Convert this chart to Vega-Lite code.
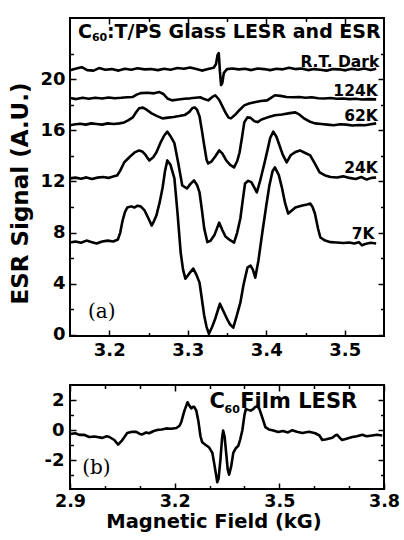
{
"$schema": "https://vega.github.io/schema/vega-lite/v6.json",
"padding": {"left": 8, "top": 16, "right": 0, "bottom": 0},
"bounds": "flush",
"spacing": 49,
"config": {
  "view": {"stroke": "black", "strokeWidth": 2},
  "axis": {"domain": false, "grid": false, "tickColor": "black", "tickWidth": 1.5, "labelColor": "black", "labelFont": "DejaVu Sans", "labelFontWeight": "bold", "labelFontSize": 18, "labelFlush": false, "labelOverlap": false, "titleColor": "black", "titleFont": "DejaVu Sans", "titleFontWeight": "bold"},
  "text": {"color": "black"}
},
"datasets": {
"esr": [
{"trace":"RT","kG":3.150,"signal":20.70},{"trace":"RT","kG":3.158,"signal":20.85},{"trace":"RT","kG":3.165,"signal":20.95},{"trace":"RT","kG":3.172,"signal":20.72},{"trace":"RT","kG":3.180,"signal":20.68},{"trace":"RT","kG":3.187,"signal":20.88},{"trace":"RT","kG":3.195,"signal":20.75},{"trace":"RT","kG":3.203,"signal":20.80},{"trace":"RT","kG":3.212,"signal":20.68},{"trace":"RT","kG":3.220,"signal":20.82},{"trace":"RT","kG":3.228,"signal":20.75},{"trace":"RT","kG":3.236,"signal":20.86},{"trace":"RT","kG":3.245,"signal":20.78},{"trace":"RT","kG":3.253,"signal":20.80},{"trace":"RT","kG":3.262,"signal":20.72},{"trace":"RT","kG":3.270,"signal":20.82},{"trace":"RT","kG":3.278,"signal":20.75},{"trace":"RT","kG":3.287,"signal":20.88},{"trace":"RT","kG":3.295,"signal":20.82},{"trace":"RT","kG":3.303,"signal":20.92},{"trace":"RT","kG":3.311,"signal":20.80},{"trace":"RT","kG":3.318,"signal":20.68},{"trace":"RT","kG":3.326,"signal":20.80},{"trace":"RT","kG":3.333,"signal":20.90},{"trace":"RT","kG":3.336,"signal":21.20},{"trace":"RT","kG":3.338,"signal":21.90},{"trace":"RT","kG":3.3395,"signal":22.05},{"trace":"RT","kG":3.341,"signal":20.60},{"trace":"RT","kG":3.3425,"signal":19.55},{"trace":"RT","kG":3.344,"signal":19.70},{"trace":"RT","kG":3.346,"signal":20.50},{"trace":"RT","kG":3.350,"signal":20.80},{"trace":"RT","kG":3.357,"signal":20.85},{"trace":"RT","kG":3.365,"signal":20.78},{"trace":"RT","kG":3.373,"signal":20.82},{"trace":"RT","kG":3.381,"signal":20.72},{"trace":"RT","kG":3.389,"signal":20.85},{"trace":"RT","kG":3.397,"signal":20.80},{"trace":"RT","kG":3.405,"signal":20.72},{"trace":"RT","kG":3.413,"signal":20.82},{"trace":"RT","kG":3.421,"signal":20.78},{"trace":"RT","kG":3.429,"signal":20.90},{"trace":"RT","kG":3.437,"signal":20.80},{"trace":"RT","kG":3.445,"signal":20.85},{"trace":"RT","kG":3.453,"signal":20.72},{"trace":"RT","kG":3.461,"signal":20.80},{"trace":"RT","kG":3.469,"signal":20.75},{"trace":"RT","kG":3.477,"signal":20.68},{"trace":"RT","kG":3.485,"signal":20.80},{"trace":"RT","kG":3.493,"signal":20.78},{"trace":"RT","kG":3.501,"signal":20.70},{"trace":"RT","kG":3.509,"signal":20.82},{"trace":"RT","kG":3.517,"signal":20.75},{"trace":"RT","kG":3.525,"signal":20.85},{"trace":"RT","kG":3.533,"signal":20.72},{"trace":"RT","kG":3.540,"signal":20.82},
{"trace":"124K","kG":3.150,"signal":18.53},{"trace":"124K","kG":3.158,"signal":18.45},{"trace":"124K","kG":3.166,"signal":18.55},{"trace":"124K","kG":3.174,"signal":18.48},{"trace":"124K","kG":3.182,"signal":18.55},{"trace":"124K","kG":3.191,"signal":18.50},{"trace":"124K","kG":3.199,"signal":18.58},{"trace":"124K","kG":3.207,"signal":18.52},{"trace":"124K","kG":3.215,"signal":18.55},{"trace":"124K","kG":3.223,"signal":18.60},{"trace":"124K","kG":3.230,"signal":18.62},{"trace":"124K","kG":3.235,"signal":18.80},{"trace":"124K","kG":3.240,"signal":18.92},{"trace":"124K","kG":3.249,"signal":18.95},{"trace":"124K","kG":3.257,"signal":18.90},{"trace":"124K","kG":3.264,"signal":19.00},{"trace":"124K","kG":3.269,"signal":18.85},{"trace":"124K","kG":3.274,"signal":18.50},{"trace":"124K","kG":3.280,"signal":18.35},{"trace":"124K","kG":3.288,"signal":18.42},{"trace":"124K","kG":3.296,"signal":18.48},{"trace":"124K","kG":3.303,"signal":18.51},{"trace":"124K","kG":3.310,"signal":18.55},{"trace":"124K","kG":3.316,"signal":18.59},{"trace":"124K","kG":3.321,"signal":18.45},{"trace":"124K","kG":3.326,"signal":18.35},{"trace":"124K","kG":3.331,"signal":18.60},{"trace":"124K","kG":3.335,"signal":18.75},{"trace":"124K","kG":3.340,"signal":18.40},{"trace":"124K","kG":3.344,"signal":17.90},{"trace":"124K","kG":3.348,"signal":17.40},{"trace":"124K","kG":3.352,"signal":17.00},{"trace":"124K","kG":3.355,"signal":16.94},{"trace":"124K","kG":3.360,"signal":17.20},{"trace":"124K","kG":3.366,"signal":17.60},{"trace":"124K","kG":3.372,"signal":17.96},{"trace":"124K","kG":3.378,"signal":18.10},{"trace":"124K","kG":3.385,"signal":18.20},{"trace":"124K","kG":3.393,"signal":18.30},{"trace":"124K","kG":3.401,"signal":18.35},{"trace":"124K","kG":3.406,"signal":18.55},{"trace":"124K","kG":3.411,"signal":18.75},{"trace":"124K","kG":3.418,"signal":18.70},{"trace":"124K","kG":3.426,"signal":18.62},{"trace":"124K","kG":3.434,"signal":18.59},{"trace":"124K","kG":3.442,"signal":18.62},{"trace":"124K","kG":3.450,"signal":18.55},{"trace":"124K","kG":3.458,"signal":18.59},{"trace":"124K","kG":3.466,"signal":18.52},{"trace":"124K","kG":3.474,"signal":18.50},{"trace":"124K","kG":3.482,"signal":18.53},{"trace":"124K","kG":3.490,"signal":18.48},{"trace":"124K","kG":3.498,"signal":18.50},{"trace":"124K","kG":3.506,"signal":18.45},{"trace":"124K","kG":3.514,"signal":18.48},{"trace":"124K","kG":3.522,"signal":18.42},{"trace":"124K","kG":3.531,"signal":18.45},{"trace":"124K","kG":3.540,"signal":18.43},
{"trace":"62K","kG":3.150,"signal":16.40},{"trace":"62K","kG":3.157,"signal":16.48},{"trace":"62K","kG":3.163,"signal":16.52},{"trace":"62K","kG":3.170,"signal":16.45},{"trace":"62K","kG":3.177,"signal":16.55},{"trace":"62K","kG":3.184,"signal":16.50},{"trace":"62K","kG":3.191,"signal":16.45},{"trace":"62K","kG":3.198,"signal":16.55},{"trace":"62K","kG":3.206,"signal":16.50},{"trace":"62K","kG":3.213,"signal":16.55},{"trace":"62K","kG":3.219,"signal":16.62},{"trace":"62K","kG":3.224,"signal":16.78},{"trace":"62K","kG":3.230,"signal":17.02},{"trace":"62K","kG":3.234,"signal":17.40},{"trace":"62K","kG":3.238,"signal":17.73},{"trace":"62K","kG":3.243,"signal":17.78},{"trace":"62K","kG":3.248,"signal":17.60},{"trace":"62K","kG":3.254,"signal":17.33},{"trace":"62K","kG":3.261,"signal":17.12},{"trace":"62K","kG":3.268,"signal":16.94},{"trace":"62K","kG":3.275,"signal":17.00},{"trace":"62K","kG":3.282,"signal":17.05},{"trace":"62K","kG":3.289,"signal":17.12},{"trace":"62K","kG":3.296,"signal":17.20},{"trace":"62K","kG":3.302,"signal":17.45},{"trace":"62K","kG":3.306,"signal":17.75},{"trace":"62K","kG":3.309,"signal":17.80},{"trace":"62K","kG":3.312,"signal":17.60},{"trace":"62K","kG":3.315,"signal":17.10},{"trace":"62K","kG":3.318,"signal":16.00},{"trace":"62K","kG":3.321,"signal":14.82},{"trace":"62K","kG":3.324,"signal":13.70},{"trace":"62K","kG":3.326,"signal":13.41},{"trace":"62K","kG":3.330,"signal":13.55},{"trace":"62K","kG":3.335,"signal":13.95},{"trace":"62K","kG":3.340,"signal":14.43},{"trace":"62K","kG":3.344,"signal":14.20},{"trace":"62K","kG":3.349,"signal":13.65},{"trace":"62K","kG":3.354,"signal":13.30},{"trace":"62K","kG":3.359,"signal":13.10},{"trace":"62K","kG":3.363,"signal":13.60},{"trace":"62K","kG":3.366,"signal":14.27},{"trace":"62K","kG":3.369,"signal":15.40},{"trace":"62K","kG":3.372,"signal":16.63},{"trace":"62K","kG":3.376,"signal":17.02},{"trace":"62K","kG":3.380,"signal":16.98},{"trace":"62K","kG":3.385,"signal":16.72},{"trace":"62K","kG":3.389,"signal":16.65},{"trace":"62K","kG":3.394,"signal":16.85},{"trace":"62K","kG":3.401,"signal":17.00},{"trace":"62K","kG":3.411,"signal":17.18},{"trace":"62K","kG":3.420,"signal":17.25},{"trace":"62K","kG":3.430,"signal":17.35},{"trace":"62K","kG":3.437,"signal":17.41},{"trace":"62K","kG":3.442,"signal":17.25},{"trace":"62K","kG":3.448,"signal":16.95},{"trace":"62K","kG":3.455,"signal":16.70},{"trace":"62K","kG":3.462,"signal":16.55},{"trace":"62K","kG":3.470,"signal":16.50},{"trace":"62K","kG":3.478,"signal":16.45},{"trace":"62K","kG":3.486,"signal":16.40},{"trace":"62K","kG":3.494,"signal":16.48},{"trace":"62K","kG":3.502,"signal":16.45},{"trace":"62K","kG":3.510,"signal":16.38},{"trace":"62K","kG":3.518,"signal":16.42},{"trace":"62K","kG":3.526,"signal":16.40},{"trace":"62K","kG":3.533,"signal":16.48},{"trace":"62K","kG":3.540,"signal":16.55},
{"trace":"24K","kG":3.150,"signal":12.24},{"trace":"24K","kG":3.157,"signal":12.30},{"trace":"24K","kG":3.164,"signal":12.22},{"trace":"24K","kG":3.171,"signal":12.32},{"trace":"24K","kG":3.178,"signal":12.20},{"trace":"24K","kG":3.185,"signal":12.30},{"trace":"24K","kG":3.192,"signal":12.35},{"trace":"24K","kG":3.199,"signal":12.28},{"trace":"24K","kG":3.206,"signal":12.40},{"trace":"24K","kG":3.210,"signal":12.47},{"trace":"24K","kG":3.214,"signal":12.85},{"trace":"24K","kG":3.219,"signal":13.49},{"trace":"24K","kG":3.224,"signal":13.80},{"trace":"24K","kG":3.228,"signal":14.04},{"trace":"24K","kG":3.233,"signal":14.30},{"trace":"24K","kG":3.238,"signal":14.43},{"trace":"24K","kG":3.242,"signal":14.35},{"trace":"24K","kG":3.246,"signal":14.10},{"trace":"24K","kG":3.251,"signal":13.65},{"trace":"24K","kG":3.256,"signal":13.90},{"trace":"24K","kG":3.260,"signal":14.27},{"trace":"24K","kG":3.265,"signal":15.00},{"trace":"24K","kG":3.270,"signal":15.60},{"trace":"24K","kG":3.274,"signal":15.90},{"trace":"24K","kG":3.278,"signal":15.55},{"trace":"24K","kG":3.283,"signal":15.00},{"trace":"24K","kG":3.288,"signal":13.40},{"trace":"24K","kG":3.293,"signal":11.69},{"trace":"24K","kG":3.299,"signal":11.45},{"trace":"24K","kG":3.304,"signal":11.85},{"trace":"24K","kG":3.308,"signal":12.08},{"trace":"24K","kG":3.312,"signal":11.70},{"trace":"24K","kG":3.315,"signal":11.14},{"trace":"24K","kG":3.318,"signal":9.80},{"trace":"24K","kG":3.321,"signal":8.31},{"trace":"24K","kG":3.325,"signal":7.25},{"trace":"24K","kG":3.329,"signal":7.35},{"trace":"24K","kG":3.334,"signal":7.80},{"trace":"24K","kG":3.340,"signal":8.78},{"trace":"24K","kG":3.344,"signal":8.20},{"trace":"24K","kG":3.348,"signal":7.70},{"trace":"24K","kG":3.354,"signal":7.40},{"trace":"24K","kG":3.359,"signal":7.22},{"trace":"24K","kG":3.363,"signal":8.00},{"trace":"24K","kG":3.367,"signal":9.10},{"trace":"24K","kG":3.370,"signal":10.50},{"trace":"24K","kG":3.373,"signal":11.84},{"trace":"24K","kG":3.377,"signal":12.05},{"trace":"24K","kG":3.381,"signal":11.95},{"trace":"24K","kG":3.385,"signal":11.50},{"trace":"24K","kG":3.388,"signal":11.14},{"trace":"24K","kG":3.392,"signal":12.00},{"trace":"24K","kG":3.397,"signal":13.25},{"trace":"24K","kG":3.401,"signal":14.30},{"trace":"24K","kG":3.405,"signal":15.40},{"trace":"24K","kG":3.409,"signal":15.90},{"trace":"24K","kG":3.413,"signal":15.50},{"trace":"24K","kG":3.417,"signal":14.80},{"trace":"24K","kG":3.421,"signal":14.10},{"trace":"24K","kG":3.426,"signal":13.49},{"trace":"24K","kG":3.431,"signal":14.05},{"trace":"24K","kG":3.437,"signal":14.30},{"trace":"24K","kG":3.443,"signal":14.43},{"trace":"24K","kG":3.449,"signal":14.25},{"trace":"24K","kG":3.456,"signal":14.04},{"trace":"24K","kG":3.462,"signal":13.40},{"trace":"24K","kG":3.468,"signal":12.71},{"trace":"24K","kG":3.475,"signal":12.47},{"trace":"24K","kG":3.482,"signal":12.35},{"trace":"24K","kG":3.490,"signal":12.31},{"trace":"24K","kG":3.498,"signal":12.40},{"trace":"24K","kG":3.506,"signal":12.28},{"trace":"24K","kG":3.514,"signal":12.20},{"trace":"24K","kG":3.521,"signal":12.35},{"trace":"24K","kG":3.528,"signal":12.15},{"trace":"24K","kG":3.534,"signal":12.28},{"trace":"24K","kG":3.540,"signal":12.31},
{"trace":"7K","kG":3.150,"signal":7.22},{"trace":"7K","kG":3.157,"signal":7.30},{"trace":"7K","kG":3.164,"signal":7.20},{"trace":"7K","kG":3.171,"signal":7.37},{"trace":"7K","kG":3.178,"signal":7.25},{"trace":"7K","kG":3.184,"signal":7.14},{"trace":"7K","kG":3.191,"signal":7.30},{"trace":"7K","kG":3.198,"signal":7.37},{"trace":"7K","kG":3.205,"signal":7.30},{"trace":"7K","kG":3.211,"signal":7.45},{"trace":"7K","kG":3.214,"signal":8.00},{"trace":"7K","kG":3.217,"signal":8.94},{"trace":"7K","kG":3.220,"signal":9.60},{"trace":"7K","kG":3.223,"signal":9.96},{"trace":"7K","kG":3.228,"signal":10.05},{"trace":"7K","kG":3.232,"signal":9.96},{"trace":"7K","kG":3.236,"signal":10.10},{"trace":"7K","kG":3.240,"signal":10.05},{"trace":"7K","kG":3.245,"signal":9.73},{"trace":"7K","kG":3.250,"signal":9.10},{"trace":"7K","kG":3.254,"signal":8.55},{"trace":"7K","kG":3.257,"signal":8.90},{"trace":"7K","kG":3.260,"signal":9.33},{"trace":"7K","kG":3.264,"signal":10.30},{"trace":"7K","kG":3.268,"signal":11.53},{"trace":"7K","kG":3.271,"signal":12.80},{"trace":"7K","kG":3.274,"signal":13.65},{"trace":"7K","kG":3.278,"signal":13.30},{"trace":"7K","kG":3.283,"signal":12.24},{"trace":"7K","kG":3.287,"signal":9.50},{"trace":"7K","kG":3.291,"signal":6.43},{"trace":"7K","kG":3.294,"signal":5.10},{"trace":"7K","kG":3.297,"signal":4.39},{"trace":"7K","kG":3.302,"signal":4.80},{"trace":"7K","kG":3.307,"signal":5.18},{"trace":"7K","kG":3.311,"signal":4.70},{"trace":"7K","kG":3.315,"signal":4.08},{"trace":"7K","kG":3.318,"signal":2.80},{"trace":"7K","kG":3.321,"signal":1.49},{"trace":"7K","kG":3.324,"signal":0.60},{"trace":"7K","kG":3.327,"signal":0.08},{"trace":"7K","kG":3.331,"signal":0.60},{"trace":"7K","kG":3.335,"signal":1.25},{"trace":"7K","kG":3.341,"signal":2.43},{"trace":"7K","kG":3.345,"signal":1.90},{"trace":"7K","kG":3.350,"signal":1.25},{"trace":"7K","kG":3.354,"signal":0.80},{"trace":"7K","kG":3.358,"signal":0.55},{"trace":"7K","kG":3.362,"signal":1.40},{"trace":"7K","kG":3.367,"signal":2.51},{"trace":"7K","kG":3.371,"signal":3.90},{"trace":"7K","kG":3.376,"signal":5.25},{"trace":"7K","kG":3.380,"signal":5.41},{"trace":"7K","kG":3.383,"signal":5.10},{"trace":"7K","kG":3.386,"signal":4.47},{"trace":"7K","kG":3.390,"signal":5.80},{"trace":"7K","kG":3.395,"signal":8.00},{"trace":"7K","kG":3.400,"signal":10.10},{"trace":"7K","kG":3.404,"signal":11.69},{"trace":"7K","kG":3.408,"signal":12.80},{"trace":"7K","kG":3.411,"signal":13.10},{"trace":"7K","kG":3.416,"signal":12.50},{"trace":"7K","kG":3.420,"signal":11.50},{"trace":"7K","kG":3.424,"signal":10.30},{"trace":"7K","kG":3.428,"signal":9.49},{"trace":"7K","kG":3.433,"signal":9.75},{"trace":"7K","kG":3.437,"signal":9.96},{"trace":"7K","kG":3.446,"signal":10.12},{"trace":"7K","kG":3.452,"signal":10.20},{"trace":"7K","kG":3.456,"signal":10.27},{"trace":"7K","kG":3.459,"signal":10.00},{"trace":"7K","kG":3.462,"signal":9.49},{"trace":"7K","kG":3.466,"signal":8.30},{"trace":"7K","kG":3.469,"signal":7.61},{"trace":"7K","kG":3.475,"signal":7.37},{"trace":"7K","kG":3.482,"signal":7.25},{"trace":"7K","kG":3.490,"signal":7.22},{"trace":"7K","kG":3.498,"signal":7.18},{"trace":"7K","kG":3.506,"signal":7.22},{"trace":"7K","kG":3.512,"signal":7.14},{"trace":"7K","kG":3.518,"signal":7.25},{"trace":"7K","kG":3.522,"signal":7.00},{"trace":"7K","kG":3.526,"signal":7.10},{"trace":"7K","kG":3.533,"signal":7.20},{"trace":"7K","kG":3.540,"signal":7.14}
],
"esrLabels": [
{"text":"R.T. Dark","kG":3.544,"signal":20.95},
{"text":"124K","kG":3.542,"signal":18.72},
{"text":"62K","kG":3.542,"signal":16.75},
{"text":"24K","kG":3.542,"signal":12.65},
{"text":"7K","kG":3.538,"signal":7.5}
],
"esrTitle": [
{"text":"C","kG":3.1602,"signal":23.24},
{"text":":T/PS Glass LESR and ESR","kG":3.197,"signal":23.24}
],
"esrSub": [{"text":"60","kG":3.1779,"signal":22.98}],
"esrPanel": [{"text":"(a)","kG":3.1729,"signal":1.28}],
"film": [
{"kG":2.900,"signal":-0.25},{"kG":2.915,"signal":-0.20},{"kG":2.927,"signal":-0.31},{"kG":2.940,"signal":-0.30},{"kG":2.955,"signal":-0.45},{"kG":2.970,"signal":-0.42},{"kG":2.993,"signal":-0.51},{"kG":3.005,"signal":-0.40},{"kG":3.013,"signal":-0.45},{"kG":3.027,"signal":-0.65},{"kG":3.038,"signal":-0.95},{"kG":3.050,"signal":-0.65},{"kG":3.064,"signal":-0.18},{"kG":3.078,"signal":-0.10},{"kG":3.090,"signal":-0.11},{"kG":3.100,"signal":-0.25},{"kG":3.107,"signal":-0.28},{"kG":3.118,"signal":-0.15},{"kG":3.127,"signal":-0.20},{"kG":3.140,"signal":-0.05},{"kG":3.150,"signal":0.02},{"kG":3.163,"signal":0.05},{"kG":3.176,"signal":0.12},{"kG":3.190,"signal":0.10},{"kG":3.205,"signal":0.15},{"kG":3.214,"signal":0.30},{"kG":3.219,"signal":0.55},{"kG":3.228,"signal":1.30},{"kG":3.237,"signal":1.85},{"kG":3.243,"signal":1.60},{"kG":3.248,"signal":1.45},{"kG":3.253,"signal":1.55},{"kG":3.256,"signal":1.55},{"kG":3.262,"signal":1.30},{"kG":3.268,"signal":0.60},{"kG":3.274,"signal":-0.40},{"kG":3.279,"signal":-0.80},{"kG":3.290,"signal":-1.00},{"kG":3.299,"signal":-1.15},{"kG":3.308,"signal":-1.50},{"kG":3.314,"signal":-2.30},{"kG":3.319,"signal":-3.00},{"kG":3.322,"signal":-3.45},{"kG":3.326,"signal":-3.20},{"kG":3.331,"signal":-2.00},{"kG":3.336,"signal":-0.50},{"kG":3.339,"signal":-0.02},{"kG":3.343,"signal":-0.40},{"kG":3.348,"signal":-1.60},{"kG":3.352,"signal":-2.60},{"kG":3.356,"signal":-2.95},{"kG":3.362,"signal":-2.40},{"kG":3.368,"signal":-1.50},{"kG":3.375,"signal":-1.20},{"kG":3.382,"signal":-1.05},{"kG":3.388,"signal":-0.60},{"kG":3.394,"signal":0.00},{"kG":3.400,"signal":1.00},{"kG":3.404,"signal":1.40},{"kG":3.411,"signal":1.35},{"kG":3.418,"signal":1.30},{"kG":3.425,"signal":1.40},{"kG":3.431,"signal":1.55},{"kG":3.437,"signal":1.60},{"kG":3.443,"signal":1.40},{"kG":3.451,"signal":0.85},{"kG":3.460,"signal":0.20},{"kG":3.470,"signal":0.05},{"kG":3.480,"signal":0.00},{"kG":3.497,"signal":-0.12},{"kG":3.510,"signal":-0.05},{"kG":3.525,"signal":-0.15},{"kG":3.537,"signal":0.00},{"kG":3.550,"signal":-0.10},{"kG":3.566,"signal":-0.18},{"kG":3.585,"signal":-0.10},{"kG":3.603,"signal":-0.20},{"kG":3.615,"signal":-0.35},{"kG":3.623,"signal":-0.65},{"kG":3.635,"signal":-0.60},{"kG":3.652,"signal":-0.50},{"kG":3.660,"signal":-0.35},{"kG":3.666,"signal":-0.30},{"kG":3.673,"signal":-0.50},{"kG":3.680,"signal":-0.65},{"kG":3.695,"signal":-0.55},{"kG":3.709,"signal":-0.45},{"kG":3.722,"signal":-0.40},{"kG":3.738,"signal":-0.30},{"kG":3.750,"signal":-0.40},{"kG":3.766,"signal":-0.35},{"kG":3.780,"signal":-0.30},{"kG":3.795,"signal":-0.35}
],
"filmTitle": [
{"text":"C","kG":3.300,"signal":1.49},
{"text":"Film LESR","kG":3.388,"signal":1.49}
],
"filmSub": [{"text":"60","kG":3.343,"signal":1.12}],
"filmPanel": [{"text":"(b)","kG":2.935,"signal":-2.91}]
},
"vconcat": [
{
  "width": 314, "height": 318,
  "resolve": {"axis": {"x": "independent", "y": "independent"}},
  "layer": [
    {
      "data": {"name": "esr"},
      "mark": {"type": "line", "color": "black", "strokeWidth": 2.6, "strokeJoin": "round"},
      "encoding": {
        "x": {"field": "kG", "type": "quantitative", "scale": {"domain": [3.15, 3.55], "nice": false, "zero": false},
              "axis": {"orient": "bottom", "values": [3.2, 3.3, 3.4, 3.5], "tickSize": -6, "labelPadding": 11, "title": null}},
        "y": {"field": "signal", "type": "quantitative", "scale": {"domain": [-0.1, 24.8], "nice": false, "zero": false},
              "axis": {"orient": "left", "values": [0, 4, 8, 12, 16, 20], "tickSize": -6, "labelPadding": 11, "title": "ESR Signal (A.U.)", "titleX": -43, "titleY": 175, "titleAngle": 270, "titleBaseline": "alphabetic", "titleAlign": "center", "titleFontSize": 23}},
        "detail": {"field": "trace"}
      }
    },
    {
      "data": {"name": "esrLabels"},
      "mark": {"type": "text", "font": "DejaVu Sans", "fontWeight": "bold", "fontSize": 15.5, "align": "right", "baseline": "alphabetic"},
      "encoding": {
        "x": {"field": "kG", "type": "quantitative", "scale": {"domain": [3.15, 3.55], "nice": false, "zero": false},
              "axis": {"orient": "top", "values": [3.2, 3.3, 3.4, 3.5], "tickSize": -6, "labels": false, "title": null}},
        "y": {"field": "signal", "type": "quantitative", "scale": {"domain": [-0.1, 24.8], "nice": false, "zero": false},
              "axis": {"orient": "right", "values": [0, 4, 8, 12, 16, 20], "tickSize": -6, "labels": false, "title": null}},
        "text": {"field": "text"}
      }
    },
    {
      "data": {"name": "esrTitle"},
      "mark": {"type": "text", "font": "DejaVu Sans", "fontWeight": "bold", "fontSize": 19, "align": "left", "baseline": "alphabetic"},
      "encoding": {
        "x": {"field": "kG", "type": "quantitative", "scale": {"domain": [3.15, 3.55], "nice": false, "zero": false},
              "axis": {"orient": "bottom", "values": [3.25, 3.35, 3.45], "tickSize": -3.5, "labels": false, "title": null}},
        "y": {"field": "signal", "type": "quantitative", "scale": {"domain": [-0.1, 24.8], "nice": false, "zero": false},
              "axis": {"orient": "left", "values": [2, 6, 10, 14, 18, 22], "tickSize": -3.5, "labels": false, "title": null}},
        "text": {"field": "text"}
      }
    },
    {
      "data": {"name": "esrSub"},
      "mark": {"type": "text", "font": "DejaVu Sans", "fontWeight": "bold", "fontSize": 11, "align": "left", "baseline": "alphabetic"},
      "encoding": {
        "x": {"field": "kG", "type": "quantitative", "scale": {"domain": [3.15, 3.55], "nice": false, "zero": false},
              "axis": {"orient": "top", "values": [3.25, 3.35, 3.45], "tickSize": -3.5, "labels": false, "title": null}},
        "y": {"field": "signal", "type": "quantitative", "scale": {"domain": [-0.1, 24.8], "nice": false, "zero": false},
              "axis": {"orient": "right", "values": [2, 6, 10, 14, 18, 22], "tickSize": -3.5, "labels": false, "title": null}},
        "text": {"field": "text"}
      }
    },
    {
      "data": {"name": "esrPanel"},
      "mark": {"type": "text", "font": "DejaVu Serif", "fontSize": 20, "align": "left", "baseline": "alphabetic"},
      "encoding": {
        "x": {"field": "kG", "type": "quantitative", "scale": {"domain": [3.15, 3.55], "nice": false, "zero": false}, "axis": null},
        "y": {"field": "signal", "type": "quantitative", "scale": {"domain": [-0.1, 24.8], "nice": false, "zero": false}, "axis": null},
        "text": {"field": "text"}
      }
    }
  ]
},
{
  "width": 314, "height": 104,
  "resolve": {"axis": {"x": "independent", "y": "independent"}},
  "layer": [
    {
      "data": {"name": "film"},
      "mark": {"type": "line", "color": "black", "strokeWidth": 2.6, "strokeJoin": "round"},
      "encoding": {
        "x": {"field": "kG", "type": "quantitative", "scale": {"domain": [2.9, 3.8], "nice": false, "zero": false},
              "axis": {"orient": "bottom", "values": [2.9, 3.2, 3.5, 3.8], "tickSize": -6, "labelPadding": 9, "labelFontSize": 17.5, "title": "Magnetic Field (kG)", "titleX": 143.5, "titleY": 38, "titleAlign": "center", "titleBaseline": "alphabetic", "titleFontSize": 19.5}},
        "y": {"field": "signal", "type": "quantitative", "scale": {"domain": [-3.9, 3.0], "nice": false, "zero": false},
              "axis": {"orient": "left", "values": [-2, 0, 2], "tickSize": -6, "labelPadding": 12, "title": null, "labelExpr": "replace(datum.label, '\u2212', '-')"}}
      }
    },
    {
      "data": {"name": "filmTitle"},
      "mark": {"type": "text", "font": "DejaVu Sans", "fontWeight": "bold", "fontSize": 21, "align": "left", "baseline": "alphabetic"},
      "encoding": {
        "x": {"field": "kG", "type": "quantitative", "scale": {"domain": [2.9, 3.8], "nice": false, "zero": false},
              "axis": {"orient": "top", "values": [2.9, 3.2, 3.5, 3.8], "tickSize": -6, "labels": false, "title": null}},
        "y": {"field": "signal", "type": "quantitative", "scale": {"domain": [-3.9, 3.0], "nice": false, "zero": false},
              "axis": {"orient": "right", "values": [-2, 0, 2], "tickSize": -6, "labels": false, "title": null}},
        "text": {"field": "text"}
      }
    },
    {
      "data": {"name": "filmSub"},
      "mark": {"type": "text", "font": "DejaVu Sans", "fontWeight": "bold", "fontSize": 11, "align": "left", "baseline": "alphabetic"},
      "encoding": {
        "x": {"field": "kG", "type": "quantitative", "scale": {"domain": [2.9, 3.8], "nice": false, "zero": false},
              "axis": {"orient": "bottom", "values": [3.0, 3.1, 3.3, 3.4, 3.6, 3.7], "tickSize": -3.5, "labels": false, "title": null}},
        "y": {"field": "signal", "type": "quantitative", "scale": {"domain": [-3.9, 3.0], "nice": false, "zero": false},
              "axis": {"orient": "left", "values": [-3, -1, 1], "tickSize": -3.5, "labels": false, "title": null}},
        "text": {"field": "text"}
      }
    },
    {
      "data": {"name": "filmPanel"},
      "mark": {"type": "text", "font": "DejaVu Serif", "fontSize": 20, "align": "left", "baseline": "alphabetic"},
      "encoding": {
        "x": {"field": "kG", "type": "quantitative", "scale": {"domain": [2.9, 3.8], "nice": false, "zero": false},
              "axis": {"orient": "top", "values": [3.0, 3.1, 3.3, 3.4, 3.6, 3.7], "tickSize": -3.5, "labels": false, "title": null}},
        "y": {"field": "signal", "type": "quantitative", "scale": {"domain": [-3.9, 3.0], "nice": false, "zero": false},
              "axis": {"orient": "right", "values": [-3, -1, 1], "tickSize": -3.5, "labels": false, "title": null}},
        "text": {"field": "text"}
      }
    }
  ]
}
],
"resolve": {"scale": {"x": "independent", "y": "independent"}}
}
